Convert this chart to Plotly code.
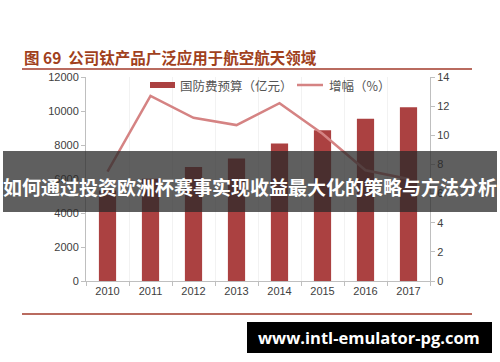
import plotly.graph_objects as go

years = ["2010", "2011", "2012", "2013", "2014", "2015", "2016", "2017"]
budget = [5321, 6011, 6703, 7202, 8082, 8869, 9543, 10226]
growth = [7.5, 12.7, 11.2, 10.7, 12.2, 10.1, 7.6, 7.0]
left_ticks = [0, 2000, 4000, 6000, 8000, 10000, 12000]
right_ticks = [0, 2, 4, 6, 8, 10, 12, 14]

title_text = "图 69  公司钛产品广泛应用于航空航天领域"
legend_bar = "国防费预算（亿元）"
legend_line = "增幅（%）"
banner_text = "如何通过投资欧洲杯赛事实现收益最大化的策略与方法分析"
footer_text = "www.intl-emulator-pg.com"

W, H = 500, 362
L, R, T, B = 86, 70, 77, 81
PW, PH = W - L - R, H - T - B

def px(x):
    return (x - L) / PW

def py(y):
    return (H - B - y) / PH

BAR = "#ab4141"
LINE = "#d58383"
AX = "#bfbfbf"
TXT = "#555555"
FONT = "Noto Sans CJK SC"

fig = go.Figure()
fig.add_trace(go.Bar(x=years, y=budget, marker=dict(color=BAR, line=dict(width=0)),
                     name=legend_bar, yaxis="y"))
fig.add_trace(go.Scatter(x=years, y=growth, mode="lines", line=dict(color=LINE, width=2.5),
                         name=legend_line, yaxis="y2"))

shapes = [
    dict(type="line", xref="paper", yref="paper", x0=px(22), x1=px(472), y0=py(69), y1=py(69),
         line=dict(color="#a23a2a", width=1.5)),
    dict(type="line", xref="paper", yref="paper", x0=px(22), x1=px(472), y0=py(314), y1=py(314),
         line=dict(color="#a23a2a", width=1.5)),
    dict(type="rect", xref="paper", yref="paper", x0=px(150), x1=px(175), y0=py(88), y1=py(82),
         fillcolor=BAR, line=dict(width=0)),
    dict(type="line", xref="paper", yref="paper", x0=px(297), x1=px(323), y0=py(85), y1=py(85),
         line=dict(color=LINE, width=2.5)),
    dict(type="rect", xref="paper", yref="paper", x0=px(3), x1=px(497), y0=py(212), y1=py(151),
         fillcolor="rgba(41,41,41,0.75)", line=dict(width=0), layer="above"),
    dict(type="rect", xref="paper", yref="paper", x0=px(247), x1=px(492), y0=py(353), y1=py(322),
         fillcolor="#000000", line=dict(width=0), layer="above"),
]

annotations = [
    dict(text="<b>" + title_text + "</b>", xref="paper", yref="paper", x=px(22), y=py(57),
         xanchor="left", yanchor="middle", showarrow=False,
         font=dict(family=FONT, size=15.5, color="#a0401c")),
    dict(text=legend_bar, xref="paper", yref="paper", x=px(178), y=py(85),
         xanchor="left", yanchor="middle", showarrow=False,
         font=dict(family=FONT, size=12.5, color=TXT)),
    dict(text=legend_line, xref="paper", yref="paper", x=px(327), y=py(85),
         xanchor="left", yanchor="middle", showarrow=False,
         font=dict(family=FONT, size=12.5, color=TXT)),
    dict(text="<b>" + banner_text + "</b>", xref="paper", yref="paper", x=px(250), y=py(186),
         xanchor="center", yanchor="middle", showarrow=False,
         font=dict(family=FONT, size=19, color="#ffffff")),
    dict(text="<b>" + footer_text + "</b>", xref="paper", yref="paper", x=px(369), y=py(337),
         xanchor="center", yanchor="middle", showarrow=False,
         font=dict(family="Open Sans", size=16.5, color="#ffffff")),
]

fig.update_layout(
    width=W, height=H,
    margin=dict(l=L, r=R, t=T, b=B),
    paper_bgcolor="white", plot_bgcolor="white",
    showlegend=False, bargap=0.6,
    font=dict(family="Liberation Sans", color=TXT, size=11),
    xaxis=dict(type="category", showline=True, linecolor=AX, linewidth=1,
               ticks="outside", tickson="boundaries", ticklen=4, tickcolor=AX,
               showgrid=True, gridcolor="#f2f2f2", tickfont=dict(size=11, color="#404040")),
    yaxis=dict(range=[0, 12000], tickvals=left_ticks, tickformat="d", showline=True, linecolor=AX,
               ticks="outside", ticklen=4, tickcolor=AX, showgrid=False, zeroline=False,
               tickfont=dict(size=11, color="#404040")),
    yaxis2=dict(range=[0, 14], tickvals=right_ticks, overlaying="y", side="right",
                showline=True, linecolor=AX, ticks="outside", ticklen=4, tickcolor=AX,
                showgrid=False, zeroline=False, tickfont=dict(size=11, color="#404040")),
    shapes=shapes, annotations=annotations,
)

fig.write_html("out.html", config={"displayModeBar": False},
               post_script="document.body.style.margin='0';")
